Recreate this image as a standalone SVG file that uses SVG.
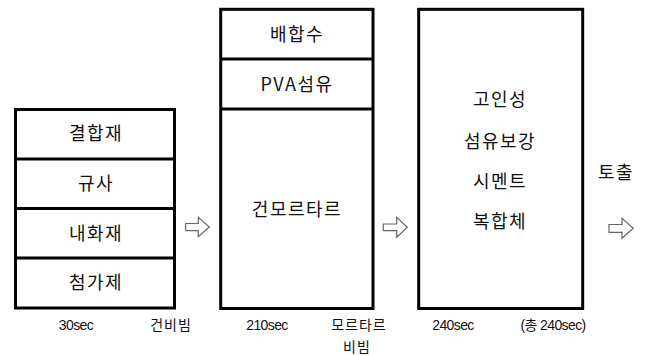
<svg xmlns="http://www.w3.org/2000/svg" width="654" height="356" viewBox="0 0 654 356">
<style>
.box{fill:#fff;stroke:#000;stroke-width:3}
.div{stroke:#000;stroke-width:3}
.t{font-family:"Noto Sans CJK KR","Liberation Sans",sans-serif;font-size:18px;fill:#111;text-anchor:middle;letter-spacing:1.5px}
.s{font-family:"Liberation Sans","Noto Sans CJK KR",sans-serif;font-size:14px;fill:#111;text-anchor:middle;letter-spacing:-0.6px}
.k{font-family:"Noto Sans CJK KR","Liberation Sans",sans-serif;font-size:14px;fill:#111;text-anchor:middle;letter-spacing:1px}
.arr{fill:#fff;stroke:#666;stroke-width:1.2;stroke-linejoin:miter}
</style>
<rect width="654" height="356" fill="#fff"/>
<g id="box1">
<rect class="box" x="15.5" y="109.5" width="159" height="198.5"/>
<line class="div" x1="15.5" y1="159" x2="174.5" y2="159"/>
<line class="div" x1="15.5" y1="208.5" x2="174.5" y2="208.5"/>
<line class="div" x1="15.5" y1="258" x2="174.5" y2="258"/>
<text class="t" x="96" y="140">결합재</text>
<text class="t" x="96" y="190">규사</text>
<text class="t" x="96" y="240">내화재</text>
<text class="t" x="96" y="289">첨가제</text>
</g>
<g id="box2">
<rect class="box" x="220.7" y="9.3" width="152.3" height="299.2"/>
<line class="div" x1="220.7" y1="59" x2="373" y2="59"/>
<line class="div" x1="220.7" y1="109" x2="373" y2="109"/>
<text class="t" x="297" y="41">배합수</text>
<text class="t" x="297" y="91">PVA섬유</text>
<text class="t" x="297" y="216">건모르타르</text>
</g>
<g id="box3">
<rect class="box" x="418.7" y="9.3" width="164" height="299.2"/>
<text class="t" x="500" y="106">고인성</text>
<text class="t" x="500" y="148">섬유보강</text>
<text class="t" x="500" y="188">시멘트</text>
<text class="t" x="500" y="228">복합체</text>
</g>
<g id="labels">
<text class="s" x="76" y="330">30sec</text>
<text class="k" x="171" y="330">건비빔</text>
<text class="s" x="267" y="330">210sec</text>
<text class="k" x="359" y="330">모르타르</text>
<text class="k" x="357" y="352">비빔</text>
<text class="s" x="453" y="330">240sec</text>
<text class="s" x="553" y="330">(총 240sec)</text>
<text class="t" x="616" y="179">토출</text>
</g>
<g id="connectors">
<path class="arr" d="M185.7,223.5 H198.3 V217.3 L209.3,227 L198.3,236.7 V230.7 H185.7 Z"/>
<path class="arr" d="M383.3,224 H396.7 V217.3 L407.3,227.3 L396.7,237.3 V230.7 H383.3 Z"/>
<path class="arr" d="M609,224.5 H622 V218.3 L633.3,228.3 L622,238.3 V232.3 H609 Z"/>
</g>
</svg>
